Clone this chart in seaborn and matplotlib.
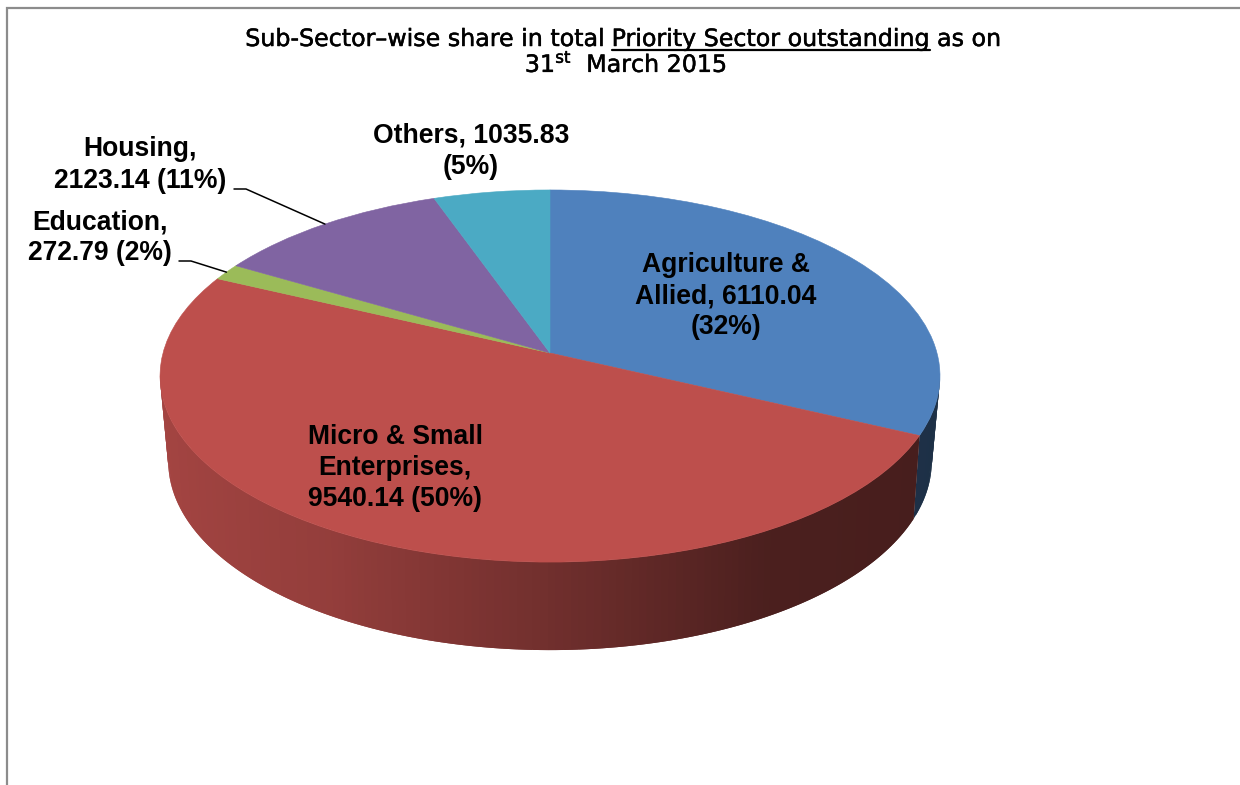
import numpy as np
import matplotlib
matplotlib.use("Agg")
import matplotlib.pyplot as plt
import matplotlib.patheffects as pe
from matplotlib.collections import PolyCollection
from matplotlib.colors import to_rgb
from matplotlib.transforms import Transform
import seaborn as sns

# Outstanding amounts per sub-sector, clockwise from twelve o'clock
sectors = ["Agriculture & Allied", "Micro & Small Enterprises", "Education", "Housing", "Others"]
amounts = [6110.04, 9540.14, 272.79, 2123.14, 1035.83]
shares = [32, 50, 2, 11, 5]
slice_colors = ["#4f81bd", "#bd4f4c", "#9bbb59", "#8064a2", "#4baac4"]

title_left = "Sub-Sector\u2013wise share in total "
title_mid = "Priority Sector outstanding"
title_right = " as on"
title_second = r"31$^{\mathrm{st}}$  March 2015"

sns.set_theme(style="white")
plt.rcParams["font.family"] = ["Liberation Sans", "DejaVu Sans"]


class Tilt(Transform):
    """Projects the unit-circle pie onto a tilted plane seen in perspective."""
    input_dims = output_dims = 2

    def __init__(self, cx, cy, a, b, c):
        super().__init__()
        self.params = cx, cy, a, b, c

    def transform_non_affine(self, xy):
        cx, cy, a, b, c = self.params
        xy = np.asarray(xy, dtype=float)
        w = 1 + c * xy[:, 1]
        return np.column_stack([cx + a * xy[:, 0] / w, cy - b * xy[:, 1] / w])


top_face = Tilt(550, 353, 387, 183.2, 0.1237)
bottom_face = Tilt(550, 435, 378, 185, 0.14)

fig = plt.figure(figsize=(12.4, 7.85), dpi=100, facecolor="white")
ax = fig.add_axes([0, 0, 1, 1])

wedges, _ = ax.pie(amounts, colors=slice_colors, startangle=90, counterclock=False,
                   radius=1, center=(0, 0))
ax.set_aspect("auto")
ax.set_xlim(0, 1240)
ax.set_ylim(785, 0)
ax.axis("off")

for wedge, colour in zip(wedges, slice_colors):
    wedge.set_transform(top_face + ax.transData)
    wedge.set_edgecolor(colour)
    wedge.set_linewidth(0.4)
    wedge.set_zorder(3)
    wedge.set_clip_on(False)

# Outer wall: overlapping strips along the front rim, darkening towards the right
step = 1.0
strips, strip_colors = [], []
for wedge, colour in zip(wedges, slice_colors):
    base = np.array(to_rgb(colour))
    for start in np.arange(wedge.theta1, wedge.theta2, step):
        stop = min(start + 2 * step, wedge.theta2)
        t0, t1 = np.radians([start, stop])
        rim = np.array([[np.cos(t0), np.sin(t0)], [np.cos(t1), np.sin(t1)]])
        if rim[:, 1].max() > -0.1:
            continue
        upper = top_face.transform_non_affine(rim)
        lower = bottom_face.transform_non_affine(rim)
        strips.append(np.vstack([upper, lower[::-1]]))
        shade = np.interp(rim[:, 0].mean(), [-1, -0.5, 0, 0.5, 1], [0.87, 0.78, 0.6, 0.4, 0.37])
        strip_colors.append(base * shade)
ax.add_collection(PolyCollection(strips, facecolors=strip_colors, edgecolors="none", zorder=2))

# Frame along the top and left of the slide
ax.plot([7, 7, 1240], [785, 7.5, 7.5], color="#8c8c8c", lw=1.6, zorder=1, solid_joinstyle="miter")

# Data labels
label_style = dict(ha="center", va="center", fontsize=19.1, fontweight="bold",
                   color="black", zorder=5, linespacing=1.25)
a, m, e, h, o = range(5)
ax.text(726, 296, f"Agriculture &\nAllied, {amounts[a]:.2f}\n({shares[a]}%)", **label_style)
ax.text(395, 468, f"Micro & Small\nEnterprises,\n{amounts[m]:.2f} ({shares[m]}%)", **label_style)
ax.text(100, 238, f"Education,\n{amounts[e]:.2f} ({shares[e]}%)", **label_style)
ax.text(140, 165, f"Housing,\n{amounts[h]:.2f} ({shares[h]}%)", **label_style)
ax.text(471, 151, f"Others, {amounts[o]:.2f}\n({shares[o]}%)", **label_style)

# Leader lines end on the rim at the middle of their slices
for idx, (x0, x1, y0) in {e: (179, 191, 261), h: (234, 246, 189)}.items():
    mid = np.radians((wedges[idx].theta1 + wedges[idx].theta2) / 2)
    tip = top_face.transform_non_affine(np.array([[np.cos(mid), np.sin(mid)]]))[0]
    ax.plot([x0, x1, tip[0]], [y0, y0, tip[1]], color="black", lw=1.1, zorder=4)

# Title, with its middle phrase underlined
heavier = [pe.withStroke(linewidth=0.35, foreground="black")]
title_style = dict(fontsize=17.1, color="black", va="baseline", ha="left", zorder=5,
                   family="DejaVu Sans", path_effects=heavier)
renderer = fig.canvas.get_renderer()
parts = [ax.text(0, 46, s, **title_style) for s in (title_left, title_mid, title_right)]
widths = []
for s in (title_left, title_mid, title_right):
    probe = ax.text(0, 46, s.replace(" ", "\u00a0"), **title_style)
    widths.append(probe.get_window_extent(renderer).width)
    probe.remove()
x = 623 - sum(widths) / 2
for part, width in zip(parts, widths):
    part.set_x(x)
    x += width
under_start = parts[1].get_position()[0]
ax.plot([under_start, under_start + widths[1]], [50, 50], color="black", lw=1.6, zorder=5)
ax.text(626, 72, title_second, fontsize=17.1, color="black", va="baseline", ha="center",
        zorder=5, family="DejaVu Sans", path_effects=heavier)

fig.savefig("out.png", dpi=100, facecolor="white")
